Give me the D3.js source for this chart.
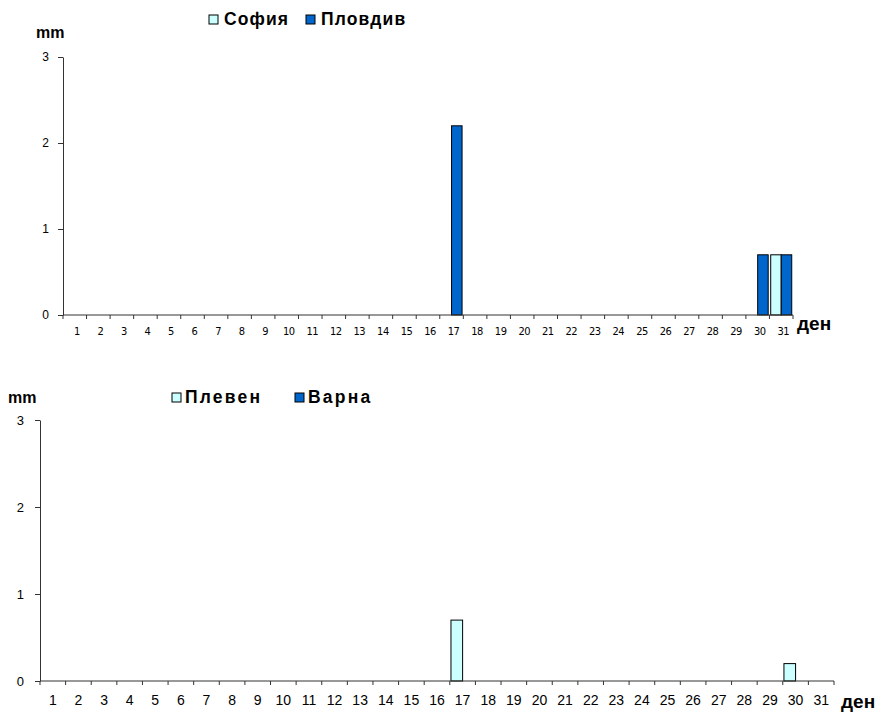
<!DOCTYPE html>
<html><head><meta charset="utf-8">
<script src="https://cdn.jsdelivr.net/npm/d3@7"></script>
<style>body{margin:0;background:#fff}svg{display:block}</style>
</head><body>
<svg id="c" width="882" height="713"></svg>
<script>
const days = ["1","2","3","4","5","6","7","8","9","10","11","12","13","14","15","16","17","18","19","20","21","22","23","24","25","26","27","28","29","30","31"];
const yTicks = [0, 1, 2, 3];
const sofia   = [0,0,0,0,0,0,0,0,0,0,0,0,0,0,0,0,0,0,0,0,0,0,0,0,0,0,0,0,0,0,0.7];
const plovdiv = [0,0,0,0,0,0,0,0,0,0,0,0,0,0,0,0,2.2,0,0,0,0,0,0,0,0,0,0,0,0,0.7,0.7];
const pleven  = [0,0,0,0,0,0,0,0,0,0,0,0,0,0,0,0,0.7,0,0,0,0,0,0,0,0,0,0,0,0,0.2,0];
const varna   = [0,0,0,0,0,0,0,0,0,0,0,0,0,0,0,0,0,0,0,0,0,0,0,0,0,0,0,0,0,0,0];
const topNames = ["София", "Пловдив"];
const botNames = ["Плевен", "Варна"];
const colors = ["#CCFFFF", "#0066CC"];

const svg = d3.select("#c");
svg.append("rect").attr("width", 882).attr("height", 713).attr("fill", "#fff");

function chart(cfg) {
  const g = svg.append("g");
  const x = d3.scaleBand().domain(days).range([cfg.x0, cfg.x1]);
  const y = d3.scaleLinear().domain([0, 3]).range([cfg.y0, cfg.y1]);
  const inner = d3.scaleBand().domain([0, 1]).range([0, x.bandwidth()]).paddingOuter(cfg.pad);

  // y axis
  const ya = g.append("g").attr("transform", `translate(${cfg.x0},0)`)
    .call(d3.axisLeft(y).tickValues(yTicks).tickFormat(d3.format("d")).tickSize(5).tickSizeOuter(0).tickPadding(cfg.yPad));
  ya.select(".domain").attr("stroke", "#333");
  ya.selectAll(".tick line").attr("stroke", "#333");
  ya.selectAll("text").attr("font-family", cfg.yFont).attr("font-size", cfg.yFs).attr("fill", "#000");

  // bars
  cfg.series.forEach((vals, si) => {
    g.append("g").selectAll("rect")
      .data(days.map((d, i) => ({ d, v: vals[i] })).filter(o => o.v > 0))
      .join("rect")
      .attr("x", o => x(o.d) + inner(si))
      .attr("width", inner.bandwidth())
      .attr("y", o => y(o.v))
      .attr("height", o => y(0) - y(o.v))
      .attr("fill", colors[si])
      .attr("stroke", "#000")
      .attr("stroke-width", 1);
  });

  // x axis line
  g.append("line").attr("x1", cfg.x0).attr("x2", cfg.x1).attr("y1", y(0)).attr("y2", y(0))
    .attr("stroke", "#333").attr("stroke-width", 1);
  // boundary ticks
  const bounds = days.map(d => x(d)).concat([cfg.x1]);
  g.append("g").selectAll("line").data(bounds).join("line")
    .attr("x1", d => d).attr("x2", d => d).attr("y1", y(0)).attr("y2", y(0) + 4)
    .attr("stroke", "#333");
  // labels
  g.append("g").selectAll("text").data(days).join("text")
    .attr("x", d => x(d) + x.bandwidth() / 2 + cfg.lblDx)
    .attr("y", y(0) + cfg.lblDy)
    .attr("text-anchor", "middle")
    .attr("font-family", cfg.xFont).attr("font-size", cfg.xFs)
    .attr("letter-spacing", cfg.xLs)
    .text(d => d);

  // axis titles
  g.append("text").attr("x", cfg.mmX).attr("y", cfg.mmY)
    .attr("font-family", "Liberation Sans, Arial, sans-serif").attr("font-weight", "bold").attr("font-size", 16)
    .text("mm");
  g.append("text").attr("x", cfg.denX).attr("y", cfg.denY)
    .attr("font-family", "Liberation Sans, Arial, sans-serif").attr("font-weight", "bold").attr("font-size", 19)
    .text("ден");

  // legend
  cfg.names.forEach((n, i) => {
    const lg = g.append("g").attr("transform", `translate(${cfg.leg[i]},${cfg.legY})`);
    lg.append("rect").attr("x", 0).attr("y", -10).attr("width", 9).attr("height", 9)
      .attr("fill", colors[i]).attr("stroke", "#000");
    lg.append("text").attr("x", cfg.legTx).attr("y", 0)
      .attr("font-family", "Liberation Sans, Arial, sans-serif").attr("font-weight", "bold")
      .attr("font-size", 17.5).attr("letter-spacing", cfg.legLs)
      .text(n);
  });
}

chart({
  x0: 63, x1: 793, y0: 315, y1: 57, pad: 0.12,
  series: [sofia, plovdiv], names: topNames,
  yFont: "Liberation Sans, Arial, sans-serif", yFs: 12, yPad: 9,
  xFont: "DejaVu Sans Condensed, DejaVu Sans, sans-serif", xFs: 11, xLs: -0.5, lblDx: 2, lblDy: 20,
  mmX: 36, mmY: 38, denX: 797, denY: 330,
  leg: [209, 306], legY: 25, legTx: 15, legLs: 1.1
});
chart({
  x0: 40, x1: 834, y0: 681, y1: 420, pad: 0.1,
  series: [pleven, varna], names: botNames,
  yFont: "Liberation Sans, Arial, sans-serif", yFs: 13, yPad: 11,
  xFont: "Liberation Sans, Arial, sans-serif", xFs: 14, xLs: 0, lblDx: 0, lblDy: 24,
  mmX: 8, mmY: 403, denX: 841, denY: 708,
  leg: [172, 295], legY: 403, legTx: 13, legLs: 2.2
});
</script>
</body></html>
